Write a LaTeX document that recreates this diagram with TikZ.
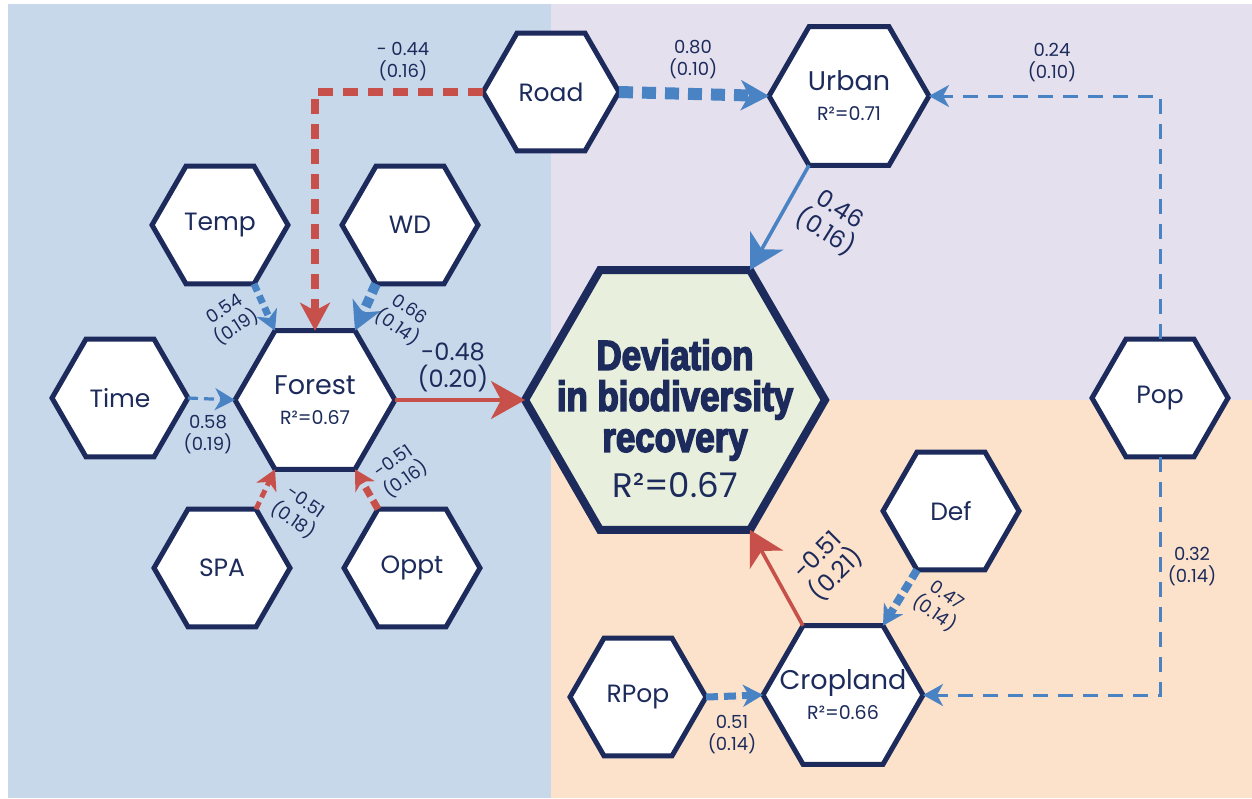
\documentclass[tikz,border=0pt]{standalone}
\usepackage{fontspec}
\setmainfont{Poppins}
\newfontfamily\headfont{Liberation Sans Bold}[FakeStretch=0.83,FakeBold=3.5]
\usetikzlibrary{shapes.geometric,arrows.meta}
\definecolor{bgblue}{RGB}{200,216,235}
\definecolor{bgpurple}{RGB}{229,224,238}
\definecolor{bgorange}{RGB}{252,225,203}
\definecolor{cfill}{RGB}{232,239,220}
\definecolor{navy}{RGB}{28,43,91}
\definecolor{ared}{RGB}{200,80,74}
\definecolor{ablue}{RGB}{74,131,196}
\newcommand\rsqfont{\fontsize{9.5}{11}\selectfont}
\begin{document}
\begin{tikzpicture}[x=0.5pt,y=-0.5pt,
  hexs/.style={regular polygon,regular polygon sides=6,draw=navy,line width=2.5pt,fill=white,inner sep=-12pt,outer sep=0pt,text=navy,align=center,font=\fontsize{12.5}{13}\selectfont},
  smallhex/.style={hexs,minimum size=68pt},
  midhex/.style={hexs,minimum size=80pt,font=\fontsize{13.5}{14}\selectfont},
  bighex/.style={hexs,minimum size=150pt,line width=4pt,fill=cfill},
  lab/.style={text=navy,align=center,inner sep=0pt,font=\fontsize{9}{11}\selectfont},
  biglab/.style={text=navy,align=center,inner sep=0pt,font=\fontsize{12}{13.5}\selectfont},
  bigtip/.style={-{Stealth[length=17pt,width=19pt,inset=5pt]}},
  midtip/.style={-{Stealth[length=14pt,width=15pt,inset=4pt]}},
  smalltip/.style={-{Stealth[length=10pt,width=11pt,inset=3pt]}},
  thinblue/.style={draw=ablue,line width=1.5pt,dash pattern=on 7.5pt off 5pt,smalltip},
]
\useasboundingbox (0,0) rectangle (1252,798);
\fill[bgblue] (8,4) rectangle (551,798);
\fill[bgpurple] (551,4) rectangle (1252,400);
\fill[bgorange] (551,400) rectangle (1252,798);

% nodes
\node[bighex] (dev) at (675,400) {};
\node[text=navy,align=center,inner sep=0pt,font=\headfont\fontsize{21}{20.5}\selectfont] (devtxt) at (675,400) {Deviation\\in biodiversity\\recovery};
\node[text=navy,inner sep=0pt,font=\fontsize{17}{18}\selectfont] (devr) at (675,485) {R²=0.67};
\node[midhex] (forest) at (315,400) {Forest\\[1pt]{\rsqfont R²=0.67}};
\node[smallhex] (temp) at (220,225) {Temp};
\node[smallhex] (wd) at (410,225) {WD};
\node[smallhex] (time) at (120,398) {Time};
\node[smallhex] (spa) at (222,568) {SPA};
\node[smallhex] (oppt) at (412,568) {Oppt};
\node[smallhex] (road) at (551,92) {Road};
\node[midhex] (urban) at (849,96) {Urban\\[1pt]{\rsqfont R²=0.71}};
\node[smallhex] (pop) at (1160,398) {Pop};
\node[smallhex] (def) at (951,511) {Def};
\node[midhex] (crop) at (843,695) {Cropland\\[1pt]{\rsqfont R²=0.66}};
\node[smallhex] (rpop) at (638,697) {RPop};

% connectors
\draw[ared,line width=4pt,dash pattern=on 7.5pt off 5pt,midtip] (road.west) -| (forest.north);
\draw[ablue,line width=6pt,dash pattern=on 7pt off 4.5pt,midtip] (road.east) -- (urban.west);
\draw[thinblue] (pop.north) |- (urban.east);
\draw[thinblue] (pop.south) |- (crop.east);
\draw[ablue,line width=1.8pt,bigtip] (urban.240) -- (dev.60);
\draw[ared,line width=1.8pt,bigtip] (forest.east) -- (dev.west);
\draw[ared,line width=1.8pt,bigtip] (crop.120) -- (dev.300);
\draw[ablue,line width=3.5pt,dash pattern=on 4pt off 2.5pt,smalltip] (temp.300) -- (forest.120);
\draw[ablue,line width=5pt,dash pattern=on 5pt off 2.5pt,midtip] (wd.240) -- (forest.60);
\draw[ablue,line width=1.6pt,dash pattern=on 5pt off 3pt,smalltip] (time.east) -- (forest.west);
\draw[ared,line width=2.5pt,dash pattern=on 4pt off 2.5pt,smalltip] (spa.60) -- (forest.240);
\draw[ared,line width=3.5pt,dash pattern=on 5pt off 2.5pt,smalltip] (oppt.120) -- (forest.300);
\draw[ablue,line width=4pt,dash pattern=on 5pt off 2.5pt,smalltip] (def.240) -- (crop.60);
\draw[ablue,line width=3.5pt,dash pattern=on 6pt off 3pt,smalltip] (rpop.east) -- (crop.west);

% labels
\node[lab] (l1) at (403,62) {- 0.44\\(0.16)};
\node[lab] (l2) at (693,60) {0.80\\(0.10)};
\node[lab] (l3) at (1052,63) {0.24\\(0.10)};
\node[lab] (l4) at (1192,567) {0.32\\(0.14)};
\node[lab,rotate=33] (l5) at (231,319) {0.54\\(0.19)};
\node[lab,rotate=-35] (l6) at (403,319) {0.66\\(0.14)};
\node[biglab] (l7) at (453,367) {-0.48\\(0.20)};
\node[lab] (l8) at (208,435) {0.58\\(0.19)};
\node[lab,rotate=-35] (l9) at (299,512) {-0.51\\(0.18)};
\node[lab,rotate=35] (l10) at (400,471) {-0.51\\(0.16)};
\node[biglab,rotate=-32] (l11) at (832,222) {0.46\\(0.16)};
\node[biglab,rotate=45] (l12) at (828,566) {-0.51\\(0.21)};
\node[lab,rotate=-35] (l13) at (940,605) {0.47\\(0.14)};
\node[lab] (l14) at (732,735) {0.51\\(0.14)};
\end{tikzpicture}
\end{document}
